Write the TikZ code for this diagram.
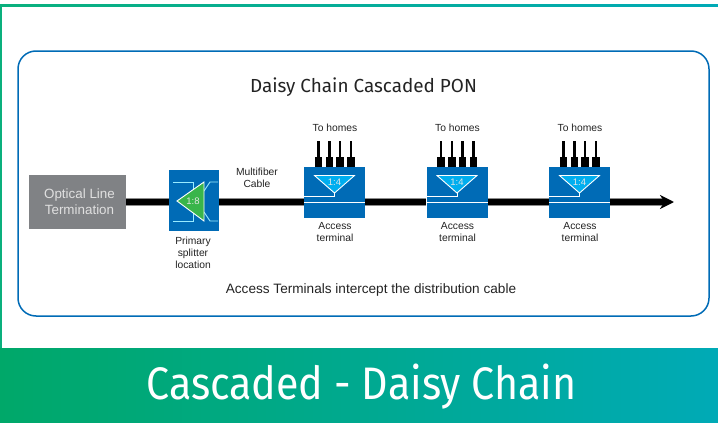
\documentclass[tikz,border=0pt]{standalone}
\usepackage{fontspec}
\setmainfont{Liberation Sans}
\newfontfamily\headfont{Fira Sans}
\usetikzlibrary{arrows.meta,backgrounds}
\definecolor{fiberblue}{RGB}{0,107,182}
\definecolor{framegreen}{RGB}{10,176,125}
\definecolor{bannergreen}{RGB}{0,168,105}
\definecolor{bannerteal}{RGB}{0,170,182}
\definecolor{oltgray}{RGB}{128,130,133}
\definecolor{splitgreen}{RGB}{57,181,74}
\definecolor{tapcyan}{RGB}{0,174,239}
\definecolor{labeltext}{RGB}{35,35,35}
\tikzset{
  smalllabel/.style={font=\fontsize{10.3}{12}\selectfont,text=labeltext,align=center,inner sep=0pt},
  bluebox/.style={fill=fiberblue,draw=none,inner sep=0pt,minimum width=61,minimum height=51},
  cablecore/.style={line width=6.5,black},
  cableedge/.style={line width=7.8,black!45},
  portbox/.style={fill=black,draw=none,inner sep=0pt,minimum width=7.5,minimum height=10},
  dropline/.style={line width=2.4,black},
  whiteline/.style={draw=white,line width=1},
  tapshape/.style={fill=tapcyan,draw=white,line width=0.9,line join=miter},
  palewire/.style={draw=blue!20!cyan!40!white,line width=0.9},
}
\begin{document}
\begin{tikzpicture}[x=1pt,y=-1pt]
\useasboundingbox (0,0) rectangle (718,423);
% outer frame and banner
\shade[left color=framegreen,right color=bannerteal] (0,4.5) rectangle (718,6.5);
\fill[framegreen] (0,4.5) rectangle (2,348);
\shade[left color=bannergreen,right color=bannerteal] (0,348) rectangle (718,423);
\node[font=\fontsize{38}{40}\selectfont\headfont,text=white,inner sep=0pt] (banner) at (361.5,386.5)
  {\scalebox{1.083}[1.2]{Cascaded - Daisy Chain}};
% rounded panel
\draw[fiberblue,line width=1.5,rounded corners=18] (18,51) rectangle (709,316);
\node[font=\fontsize{18.9}{21}\selectfont\headfont,text=labeltext,inner sep=0pt] (heading) at (363.5,87)
  {Daisy Chain Cascaded PON};
% OLT
\node[fill=oltgray,inner sep=0pt,minimum width=97,minimum height=54] (olt) at (77.5,202) {};
\node[align=center,inner sep=0pt,text=white!88!black,font=\fontsize{13.4}{16}\selectfont] (oltlabel) at (79.5,202)
  {Optical Line\\Termination};
% primary splitter
\node[fill=fiberblue,inner sep=0pt,minimum width=50,minimum height=61] (split) at (194,200.5) {};
\draw[palewire] (173,182) -- (193,182) -- (193,190);
\draw[palewire] (173,221) -- (193,221) -- (193,213);
\draw[palewire] (218,182) -- (210,182) -- (204,191);
\draw[palewire] (218,221) -- (210,221) -- (204,212);
\draw[fill=splitgreen,draw=white,line width=0.9] (177,201) -- (204,182) -- (204,221) -- cycle;
\node[font=\fontsize{9.5}{11}\selectfont,text=white!90!black,inner sep=0pt] (ratio) at (193,201) {1:8};
\node[smalllabel] (splitlabel) at (193,253) {Primary\\splitter\\location};
\node[smalllabel] (mfc) at (257,178) {Multifiber\\Cable};
% access terminals
\foreach \n/\c in {1/334.5,2/457,3/579.5}{
  \node[bluebox] (t\n) at (\c,192.5) {};
  \draw[tapshape] (\c-20,175.5) -- (\c+20,175.5) -- (\c,193) -- cycle;
  \node[font=\fontsize{9.5}{11}\selectfont,text=white!90!black,inner sep=0pt] (r\n) at (\c,182) {1:4};
  \draw[whiteline] (\c,193) -- (\c,196) -- (\c-30.5,196);
  \draw[whiteline] (t\n.west |- 0,202) -- (t\n.east |- 0,202);
  \foreach \k/\d in {1/-16,2/-5,3/5.5,4/16.5}{
    \node[portbox] (p\n\k) at (\c+\d,162) {};
    \coordinate (d\n\k) at (\c+\d,141);
    \draw[dropline] (p\n\k.north) -- (d\n\k);
  }
  \node[smalllabel] (home\n) at (\c+0.5,127.5) {To homes};
  \node[smalllabel] (acc\n) at (\c+0.5,232.5) {Access\\terminal};
}
% cable segments
\coordinate (arrowend) at (674,202);
\begin{scope}[on background layer]
  \foreach \a/\b in {olt/split,split/t1,t1/t2,t2/t3}{
    \draw[cableedge] (\a.east |- 0,202) -- (\b.west |- 0,202);
    \draw[cablecore] (\a.east |- 0,202) -- (\b.west |- 0,202);
  }
  \draw[cableedge] (t3.east |- 0,202) -- (662,202);
  \draw[cablecore,-{Stealth[length=14,width=14]}] (t3.east |- 0,202) -- (arrowend);
\end{scope}
\node[font=\fontsize{13.6}{15}\selectfont,text=labeltext,inner sep=0pt] (caption) at (371,290)
  {Access Terminals intercept the distribution cable};
\end{tikzpicture}
\end{document}
